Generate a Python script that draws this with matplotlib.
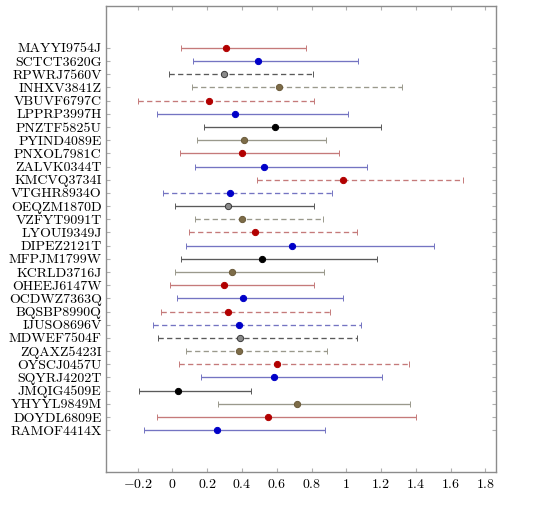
import matplotlib
matplotlib.use('Agg')
import matplotlib.pyplot as plt
from matplotlib.ticker import FuncFormatter

# rows top to bottom
labels = ['MAYYI9754J', 'SCTCT3620G', 'RPWRJ7560V', 'INHXV3841Z', 'VBUVF6797C',
          'LPPRP3997H', 'PNZTF5825U', 'PYIND4089E', 'PNXOL7981C', 'ZALVK0344T',
          'KMCVQ3734I', 'VTGHR8934O', 'OEQZM1870D', 'VZFYT9091T', 'LYOUI9349J',
          'DIPEZ2121T', 'MFPJM1799W', 'KCRLD3716J', 'OHEEJ6147W', 'OCDWZ7363Q',
          'BQSBP8990Q', 'IJUSO8696V', 'MDWEF7504F', 'ZQAXZ5423I', 'OYSCJ0457U',
          'SQYRJ4202T', 'JMQIG4509E', 'YHYYL9849M', 'DOYDL6809E', 'RAMOF4414X']
centers = [0.31, 0.49, 0.295, 0.615, 0.21, 0.36, 0.59, 0.41, 0.40, 0.526,
           0.983, 0.329, 0.318, 0.398, 0.476, 0.69, 0.513, 0.344, 0.298, 0.404,
           0.321, 0.384, 0.388, 0.383, 0.60, 0.584, 0.03, 0.716, 0.551, 0.258]
lows = [0.05, 0.12, -0.02, 0.112, -0.197, -0.087, 0.181, 0.141, 0.041, 0.13,
        0.488, -0.053, 0.016, 0.131, 0.093, 0.076, 0.047, 0.013, -0.014, 0.024,
        -0.064, -0.112, -0.083, 0.076, 0.039, 0.162, -0.193, 0.264, -0.091, -0.162]
highs = [0.77, 1.07, 0.81, 1.32, 0.816, 1.008, 1.20, 0.883, 0.96, 1.12,
         1.673, 0.916, 0.816, 0.864, 1.06, 1.505, 1.177, 0.874, 0.814, 0.981,
         0.908, 1.083, 1.063, 0.891, 1.363, 1.207, 0.452, 1.368, 1.399, 0.877]
groups = ['red', 'blue', 'gray', 'olive', 'red', 'blue', 'black', 'olive', 'red', 'blue',
          'red', 'blue', 'gray', 'olive', 'red', 'blue', 'black', 'olive', 'red', 'blue',
          'red', 'blue', 'gray', 'olive', 'red', 'blue', 'black', 'olive', 'red', 'blue']
dashed = [False, False, True, True, True, False, False, False, False, False,
          True, True, False, True, True, False, False, False, False, False,
          True, True, True, True, True, False, False, False, False, False]
x_ticks = [-0.2, 0, 0.2, 0.4, 0.6, 0.8, 1, 1.2, 1.4, 1.6, 1.8]

# dot colour, dot edge, error line colour
STYLES = {
    'red': ('#b20000', '#b20000', '#c57a7a'),
    'blue': ('#0000c8', '#0000c8', '#7474c2'),
    'gray': ('#8a8a8a', '#3a3a3a', '#5a5a5a'),
    'olive': ('#7d6c48', '#6a5a3a', '#9a998c'),
    'black': ('#000000', '#000000', '#5a5a5a'),
}

plt.rcParams['font.family'] = 'serif'
plt.rcParams['font.serif'] = ['cmr10', 'DejaVu Serif']
plt.rcParams['mathtext.fontset'] = 'cm'
plt.rcParams['axes.formatter.use_mathtext'] = True

fig = plt.figure(figsize=(5.4, 5.05), dpi=100)
ax = fig.add_axes([0.196, 0.0653, 0.7225, 0.9227])

for i, lab in enumerate(labels):
    face, edge, line = STYLES[groups[i]]
    c = centers[i]
    eb = ax.errorbar([c], [i], xerr=[[c - lows[i]], [highs[i] - c]],
                     fmt='o', ms=4.5, mfc=face, mec=edge, mew=0.7,
                     ecolor=line, elinewidth=0.95, capsize=2.0, capthick=0.8,
                     zorder=3)
    if dashed[i]:
        for bl in eb[2]:
            bl.set_linestyle((0, (4, 2.5)))

ax.set_ylim(len(labels) - 1 + 3.17, -3.17)
ax.set_xlim(-0.383, 1.861)
ax.set_yticks(range(len(labels)))
ax.set_yticklabels(labels, fontsize=10)
ax.set_xticks(x_ticks)
ax.xaxis.set_major_formatter(FuncFormatter(lambda v, p: '$%g$' % v))
ax.tick_params(axis='x', labelsize=10, direction='in', top=True, length=3,
               color='#b0b0b0', pad=4)
ax.tick_params(axis='y', direction='in', right=True, length=3,
               color='#b0b0b0', pad=3)
for sp in ax.spines.values():
    sp.set_color('#8c8c8c')
    sp.set_linewidth(1.0)

plt.savefig('out.png', dpi=100)
plt.close()
